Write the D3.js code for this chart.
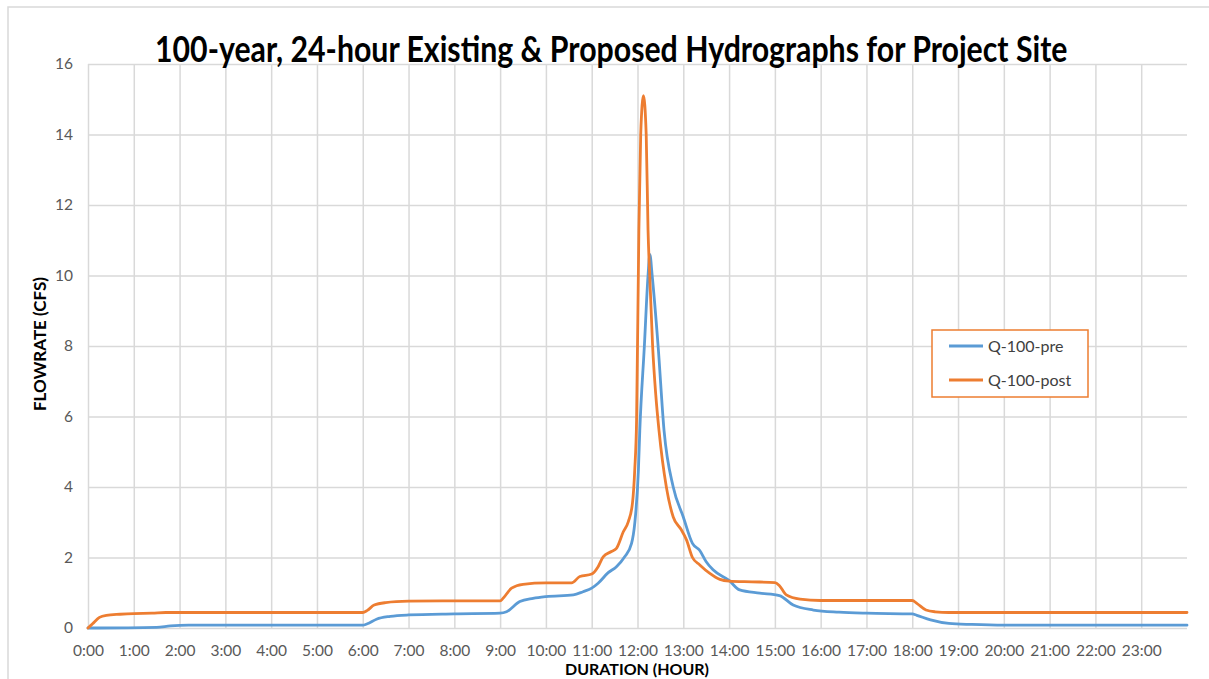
<!DOCTYPE html>
<html>
<head>
<meta charset="utf-8">
<script src="https://cdn.jsdelivr.net/npm/d3@7"></script>
<style>
  body { margin: 0; background: #fff; }
  svg { display: block; }
</style>
</head>
<body>
<div id="chart"></div>
<script>
// hydrograph values (hours, cfs)
var preHours = [0, 1.5, 1.8, 2.2, 6.0, 6.1, 6.3, 6.6, 7.0, 8.0, 9.0, 9.14, 9.43, 9.72, 10.0, 10.6, 10.81, 11.0, 11.14, 11.36, 11.54, 11.72, 11.87, 11.94, 12.02, 12.05, 12.15, 12.23, 12.27, 12.32, 12.45, 12.58, 12.78, 13.0, 13.2, 13.36, 13.5, 13.65, 14.0, 14.23, 14.67, 15.1, 15.4, 15.84, 16.4, 17.0, 18.0, 18.1, 18.4, 18.8, 19.3, 20.0, 24.0];
var preFlow  = [0, 0.02, 0.06, 0.08, 0.08, 0.12, 0.25, 0.33, 0.37, 0.40, 0.42, 0.46, 0.75, 0.84, 0.89, 0.94, 1.03, 1.13, 1.27, 1.57, 1.74, 2.02, 2.40, 2.97, 4.49, 5.6, 8.0, 10.0, 10.6, 10.0, 8.0, 5.6, 4.0, 3.15, 2.4, 2.2, 1.88, 1.65, 1.35, 1.08, 0.99, 0.92, 0.65, 0.51, 0.45, 0.42, 0.40, 0.36, 0.23, 0.13, 0.10, 0.08, 0.08];

var postHours = [0, 0.1, 0.25, 0.4, 0.7, 1.0, 1.4, 1.7, 2.0, 6.0, 6.1, 6.25, 6.5, 7.0, 8.0, 9.0, 9.07, 9.25, 9.5, 10.0, 10.56, 10.74, 11.0, 11.14, 11.25, 11.43, 11.54, 11.69, 11.8, 11.89, 11.94, 11.98, 12.03, 12.07, 12.13, 12.19, 12.23, 12.27, 12.33, 12.4, 12.47, 12.63, 12.78, 12.95, 13.07, 13.2, 13.36, 13.58, 13.8, 14.0, 14.5, 15.0, 15.1, 15.25, 15.55, 16.0, 18.0, 18.1, 18.3, 18.5, 18.8, 24.0];
var postFlow  = [0, 0.12, 0.30, 0.36, 0.39, 0.41, 0.42, 0.44, 0.44, 0.44, 0.50, 0.65, 0.72, 0.76, 0.77, 0.77, 0.85, 1.13, 1.24, 1.28, 1.28, 1.46, 1.53, 1.74, 2.02, 2.17, 2.26, 2.73, 3.02, 3.54, 4.49, 5.9, 11.3, 14.0, 15.1, 14.0, 11.3, 9.9, 8.0, 6.6, 5.6, 4.0, 3.15, 2.8, 2.5, 2.0, 1.79, 1.55, 1.38, 1.33, 1.31, 1.29, 1.2, 0.94, 0.82, 0.78, 0.78, 0.70, 0.51, 0.46, 0.44, 0.44];

var yTicks = [0, 2, 4, 6, 8, 10, 12, 14, 16];
var hourTicks = [0, 1, 2, 3, 4, 5, 6, 7, 8, 9, 10, 11, 12, 13, 14, 15, 16, 17, 18, 19, 20, 21, 22, 23];
var hourLabels = ["0:00", "1:00", "2:00", "3:00", "4:00", "5:00", "6:00", "7:00", "8:00", "9:00", "10:00", "11:00",
                  "12:00", "13:00", "14:00", "15:00", "16:00", "17:00", "18:00", "19:00", "20:00", "21:00", "22:00", "23:00"];
var seriesNames = ["Q-100-pre", "Q-100-post"];
var seriesColors = ["#5B9BD5", "#ED7D31"];

var W = 1209, H = 679;
var margin = { top: 64, right: 22, bottom: 51, left: 88 };
var width = W - margin.left - margin.right;
var height = H - margin.top - margin.bottom;

var svg = d3.select("#chart").append("svg")
  .attr("width", W)
  .attr("height", H);

// outer chart frame
svg.append("rect")
  .attr("x", 8).attr("y", 7)
  .attr("width", W + 20).attr("height", H + 20)
  .attr("fill", "#fff")
  .attr("stroke", "#d9d9d9")
  .attr("stroke-width", 1.5);

var g = svg.append("g").attr("transform", `translate(${margin.left},${margin.top})`);

var x = d3.scaleLinear().domain([0, 24]).range([0, width]);
var y = d3.scaleLinear().domain([0, 16]).range([height, 0]);

// axes + gridlines
var gx = g.append("g")
  .attr("transform", `translate(0,${height})`)
  .call(d3.axisBottom(x).tickValues(hourTicks).tickSize(-height).tickPadding(17)
    .tickFormat(function(d, i) { return hourLabels[i]; }));

var gy = g.append("g")
  .call(d3.axisLeft(y).tickValues(yTicks).tickSize(-width).tickPadding(15).tickFormat(d3.format("d")));

[gx, gy].forEach(function(ax) {
  ax.select(".domain").remove();
  ax.selectAll(".tick line").attr("stroke", "#d9d9d9").attr("stroke-width", 1.5);
  ax.selectAll(".tick text")
    .attr("fill", "#595959")
    .style("font-family", "Lato, 'Open Sans', sans-serif")
    .style("font-size", "15.5px");
});
gx.selectAll(".tick text").attr("dy", "0.71em");

// the series
var line = d3.line()
  .x(function(d) { return x(d[0]); })
  .y(function(d) { return y(d[1]); })
  .curve(d3.curveMonotoneX);

var series = [
  d3.zip(preHours, preFlow),
  d3.zip(postHours, postFlow)
];

g.selectAll(".series")
  .data(series)
  .join("path")
  .attr("class", "series")
  .attr("fill", "none")
  .attr("stroke", function(d, i) { return seriesColors[i]; })
  .attr("stroke-width", 2.8)
  .attr("stroke-linejoin", "round")
  .attr("stroke-linecap", "round")
  .attr("d", line);

// title - squeezed horizontally like the original
var title = svg.append("text")
  .style("font-family", "Lato, 'Open Sans', sans-serif")
  .style("font-weight", "bold")
  .style("font-size", "36px")
  .attr("fill", "#000")
  .text("100-year, 24-hour Existing & Proposed Hydrographs for Project Site");
var titleLen = title.node().getComputedTextLength();
title.attr("transform", `translate(155,62) scale(${913 / titleLen},1)`);

// axis titles
svg.append("text")
  .attr("transform", `translate(46,${margin.top + height / 2 - 2}) rotate(-90)`)
  .attr("text-anchor", "middle")
  .style("font-family", "Lato, 'Open Sans', sans-serif")
  .style("font-weight", "bold")
  .style("font-size", "17px")
  .attr("fill", "#000")
  .text("FLOWRATE (CFS)");

svg.append("text")
  .attr("x", 637).attr("y", 675)
  .attr("text-anchor", "middle")
  .style("font-family", "Lato, 'Open Sans', sans-serif")
  .style("font-weight", "bold")
  .style("font-size", "16px")
  .attr("fill", "#000")
  .text("DURATION (HOUR)");

// legend
var legend = svg.append("g").attr("transform", "translate(932,330)");
legend.append("rect")
  .attr("width", 156).attr("height", 67)
  .attr("fill", "#fff")
  .attr("stroke", "#ED7D31")
  .attr("stroke-width", 1.5);

var items = legend.selectAll(".item")
  .data(seriesNames)
  .join("g")
  .attr("class", "item")
  .attr("transform", function(d, i) { return `translate(0,${16 + i * 34})`; });

items.append("line")
  .attr("x1", 17).attr("x2", 51)
  .attr("stroke", function(d, i) { return seriesColors[i]; })
  .attr("stroke-width", 2.8);

items.append("text")
  .attr("x", 56).attr("dy", "0.35em")
  .style("font-family", "Lato, 'Open Sans', sans-serif")
  .style("font-size", "16px")
  .attr("fill", "#404040")
  .text(function(d) { return d; });
</script>
</body>
</html>
